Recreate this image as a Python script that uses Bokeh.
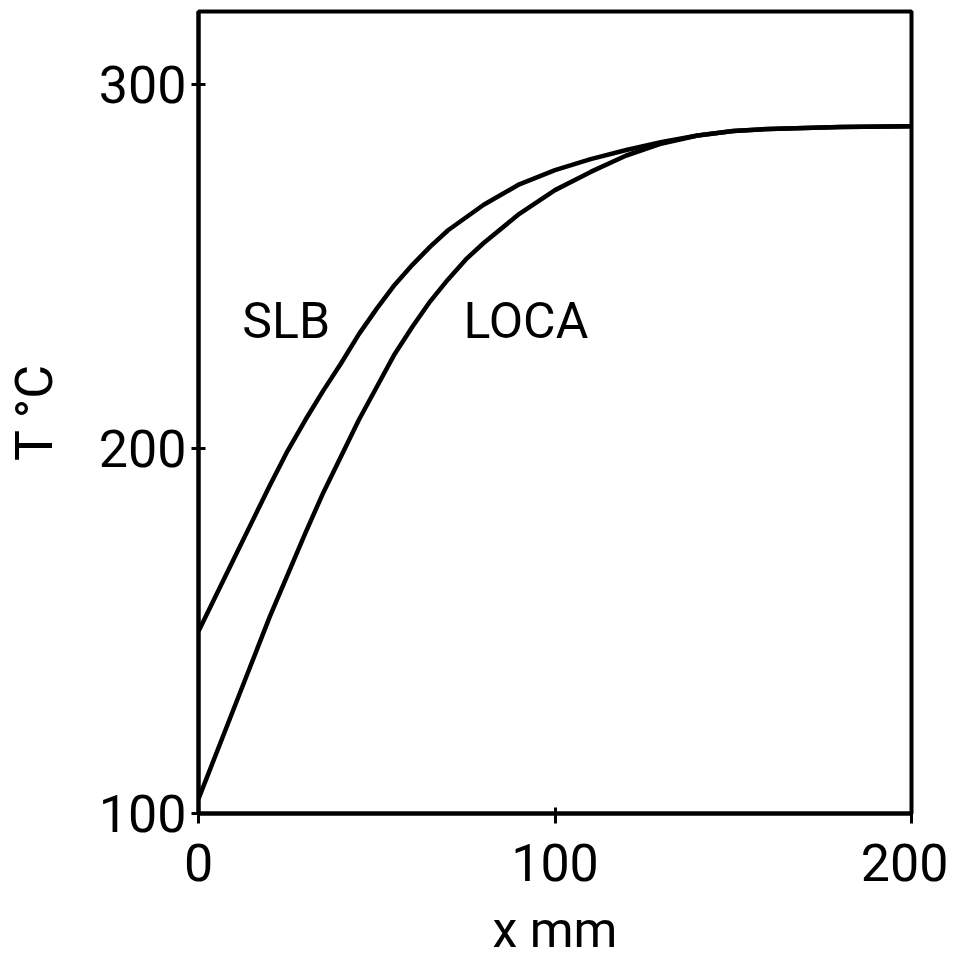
from bokeh.plotting import figure
from bokeh.models import Range1d, FixedTicker, ColumnDataSource
from bokeh.embed import file_html
from bokeh.resources import INLINE
from bokeh.core.properties import value

# ---- data ----
x_slb = [0, 5, 10, 15, 20, 25, 30, 35, 40, 45, 50, 55, 60, 65, 70, 80, 90, 100, 110, 120, 130, 140, 150, 160, 180, 200]
t_slb = [150, 160, 170, 180, 190, 199.5, 208, 216, 223.5, 231.5, 238.5, 245, 250.5, 255.5, 260, 267, 272.6, 276.5, 279.5, 282, 284.2, 286, 287.2, 287.8, 288.3, 288.5]

x_loca = [0, 10, 20, 30, 35, 40, 45, 50, 55, 60, 65, 70, 75, 80, 90, 100, 110, 120, 130, 140, 150, 160, 180, 200]
t_loca = [104, 129, 154, 177, 188, 198, 208, 217, 226, 233.5, 240.5, 246.5, 252, 256.5, 264.5, 271, 276, 280.5, 283.8, 286, 287.2, 287.8, 288.3, 288.5]

label_text = ["SLB", "LOCA"]
label_x = [12.3, 74.3]
label_t = [235, 235]

x_ticks = [0, 100, 200]
y_ticks = [100, 200, 300]

FONT = "Roboto"

p = figure(frame_width=713, frame_height=802,
           x_range=Range1d(0, 200), y_range=Range1d(100, 320),
           output_backend="svg", toolbar_location=None,
           min_border_left=198, min_border_right=37,
           min_border_top=11, min_border_bottom=145)

p.background_fill_color = "white"
p.border_fill_color = "white"
p.outline_line_color = "black"
p.outline_line_width = 4
p.grid.visible = False

p.line(x_slb, t_slb, line_color="black", line_width=4.5, line_join="round")
p.line(x_loca, t_loca, line_color="black", line_width=4.5, line_join="round")

src = ColumnDataSource(dict(x=label_x, y=label_t, t=label_text))
p.text(x="x", y="y", text="t", source=src, text_font=value(FONT),
       text_font_size="50px", text_align="left", text_baseline="middle",
       text_color="black")

for ax in (p.xaxis[0], p.yaxis[0]):
    ax.axis_line_width = 4
    ax.axis_line_color = "black"
    ax.major_tick_line_width = 3
    ax.major_tick_line_color = "black"
    ax.minor_tick_line_color = None
    ax.major_label_text_font = FONT
    ax.major_label_text_color = "black"
    ax.axis_label_text_font = FONT
    ax.axis_label_text_font_style = "normal"
    ax.axis_label_text_color = "black"

p.xaxis.ticker = FixedTicker(ticks=x_ticks)
p.yaxis.ticker = FixedTicker(ticks=y_ticks)

p.xaxis.major_tick_in = 6
p.xaxis.major_tick_out = 10
p.xaxis.major_label_text_font_size = "52px"
p.xaxis.major_label_standoff = 20
p.xaxis.axis_label = "x mm"
p.xaxis.axis_label_text_font_size = "50px"
p.xaxis.axis_label_standoff = 17

p.yaxis.major_tick_in = 7
p.yaxis.major_tick_out = 7
p.yaxis.major_label_text_font_size = "52px"
p.yaxis.major_label_standoff = 5
p.yaxis.axis_label = "T °C"
p.yaxis.axis_label_text_font_size = "52px"
p.yaxis.axis_label_standoff = 31

open("out.html", "w").write(file_html(p, INLINE))
